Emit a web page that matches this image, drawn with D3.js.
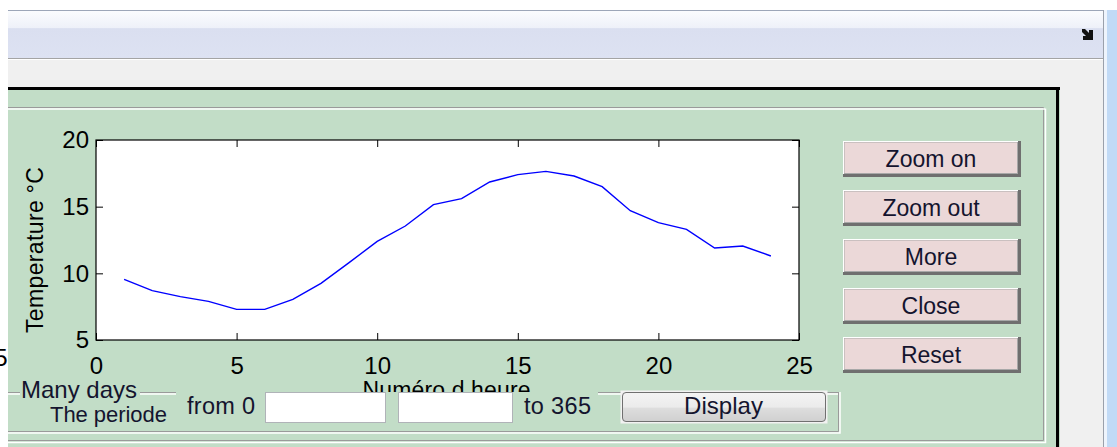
<!DOCTYPE html>
<html>
<head>
<meta charset="utf-8">
<script src="https://cdn.jsdelivr.net/npm/d3@7"></script>
<style>
  html, body { margin: 0; padding: 0; background: #ffffff; overflow: hidden; }
  svg { display: block; font-family: "Liberation Sans", Arial, sans-serif; }
</style>
</head>
<body>
<svg id="fig" width="1117" height="447"></svg>
<script>
// ---------- data ----------
const hours = [1, 2, 3, 4, 5, 6, 7, 8, 9, 10, 11, 12, 13, 14, 15, 16, 17, 18, 19, 20, 21, 22, 23, 24];
const temperatures = [9.55, 8.7, 8.25, 7.9, 7.3, 7.3, 8.05, 9.25, 10.8, 12.4, 13.55, 15.15, 15.6, 16.85, 17.4, 17.65, 17.3, 16.5, 14.7, 13.8, 13.3, 11.9, 12.05, 11.3];
const xTicks = [0, 5, 10, 15, 20, 25];
const yTicks = [5, 10, 15, 20];
const xDomain = [0, 25];
const yDomain = [5, 20];
const xLabel = "Numéro d heure";
const yLabel = "Temperature °C";
const buttonLabels = ["Zoom on", "Zoom out", "More", "Close", "Reset"];

const svg = d3.select("#fig");
const GREEN = "#c2ddc7";
const defs = svg.append("defs");

// ---------- window chrome ----------
const tg = defs.append("linearGradient").attr("id", "titleGrad").attr("x1", 0).attr("y1", 0).attr("x2", 0).attr("y2", 1);
tg.append("stop").attr("offset", "0").attr("stop-color", "#fbfcfe");
tg.append("stop").attr("offset", "0.36").attr("stop-color", "#eef1f9");
tg.append("stop").attr("offset", "0.38").attr("stop-color", "#dadff0");
tg.append("stop").attr("offset", "1").attr("stop-color", "#dde2f2");

svg.append("rect").attr("x", 0).attr("y", 0).attr("width", 1117).attr("height", 447).attr("fill", "#ffffff");
svg.append("rect").attr("x", 8).attr("y", 10).attr("width", 1096).attr("height", 437).attr("fill", "#f0f0f0");
svg.append("rect").attr("x", 8).attr("y", 10).attr("width", 1096).attr("height", 49).attr("fill", "url(#titleGrad)");
svg.append("line").attr("x1", 8).attr("x2", 1104).attr("y1", 10.5).attr("y2", 10.5).attr("stroke", "#9ca6b8");
svg.append("line").attr("x1", 8).attr("x2", 1104).attr("y1", 58.5).attr("y2", 58.5).attr("stroke", "#a4a4a4");
svg.append("line").attr("x1", 8).attr("x2", 1104).attr("y1", 59.5).attr("y2", 59.5).attr("stroke", "#ffffff");
// dock arrow icon
svg.append("path").attr("d", "M1082,29 L1085,29 L1089,33 L1089,30 L1093,30 L1093,40 L1083,40 L1083,36 L1086,36 L1082,32 Z")
  .attr("fill", "#111");
// right edge strip
svg.append("line").attr("x1", 1103.5).attr("x2", 1103.5).attr("y1", 10).attr("y2", 447).attr("stroke", "#9aa0ab");
svg.append("rect").attr("x", 1104).attr("y", 10).attr("width", 3).attr("height", 437).attr("fill", "#eef4fc");
svg.append("rect").attr("x", 1107).attr("y", 10).attr("width", 10).attr("height", 437).attr("fill", "#c1daf6");

// ---------- green panel ----------
svg.append("rect").attr("x", 8).attr("y", 87).attr("width", 1052).attr("height", 360).attr("fill", GREEN);
svg.append("rect").attr("x", 8).attr("y", 87).attr("width", 1052).attr("height", 3).attr("fill", "#000");
svg.append("rect").attr("x", 1056).attr("y", 87).attr("width", 3).attr("height", 360).attr("fill", "#000");
const etched = (x1, y1, x2, y2) => {
  svg.append("path").attr("d", `M${x1},${y1} L${x2},${y1} L${x2},${y2} L${x1},${y2}`).attr("fill", "none").attr("stroke", "#9a9a9a").attr("stroke-width", 1);
  svg.append("path").attr("d", `M${x1},${y1 + 1.5} L${x2 + 1.5},${y1 + 1.5} M${x2 + 2},${y1 + 1} L${x2 + 2},${y2 + 2} L${x1},${y2 + 2}`).attr("fill", "none").attr("stroke", "#ffffff").attr("stroke-width", 1.5);
};
etched(8, 107.5, 1043.5, 440.5);

// ---------- axes ----------
const m = { left: 96, right: 799, top: 140, bottom: 340 };
const x = d3.scaleLinear().domain(xDomain).range([m.left, m.right]);
const y = d3.scaleLinear().domain(yDomain).range([m.bottom, m.top]);
const TICK = 7;
const FONT_AX = 24;

svg.append("rect").attr("x", m.left).attr("y", m.top).attr("width", m.right - m.left).attr("height", m.bottom - m.top).attr("fill", "#fff");

const line = d3.line().x((d, i) => x(hours[i])).y(d => y(d));
svg.append("path").datum(temperatures).attr("d", line).attr("fill", "none").attr("stroke", "#0000ff").attr("stroke-width", 1.4);

const axStyle = g => {
  g.select(".domain").remove();
  g.selectAll("line").attr("stroke", "#000").attr("stroke-width", 1);
  g.selectAll("text").attr("font-size", FONT_AX).attr("fill", "#000").attr("font-family", "Liberation Sans, Arial, sans-serif");
};
const gB = svg.append("g").attr("transform", `translate(0,${m.bottom})`)
  .call(d3.axisBottom(x).tickValues(xTicks).tickFormat(d3.format("d")).tickSizeInner(-TICK).tickSizeOuter(0).tickPadding(TICK + 10));
gB.call(axStyle);
const gT = svg.append("g").attr("transform", `translate(0,${m.top})`)
  .call(d3.axisTop(x).tickValues(xTicks).tickFormat("").tickSizeInner(-TICK).tickSizeOuter(0));
gT.call(axStyle);
const gL = svg.append("g").attr("transform", `translate(${m.left},0)`)
  .call(d3.axisLeft(y).tickValues(yTicks).tickFormat(d3.format("d")).tickSizeInner(-TICK).tickSizeOuter(0).tickPadding(7));
gL.call(axStyle);
const gR = svg.append("g").attr("transform", `translate(${m.right},0)`)
  .call(d3.axisRight(y).tickValues(yTicks).tickFormat("").tickSizeInner(-TICK).tickSizeOuter(0));
gR.call(axStyle);
svg.append("rect").attr("x", m.left).attr("y", m.top).attr("width", m.right - m.left).attr("height", m.bottom - m.top)
  .attr("fill", "none").attr("stroke", "#000").attr("stroke-width", 1.2);

// stray partial tick label at the left edge
svg.append("text").attr("x", 1).attr("y", 366).attr("text-anchor", "middle").attr("font-size", FONT_AX).attr("fill", "#000").text("5");

// y label
svg.append("text").attr("transform", `translate(43,${(m.top + m.bottom) / 2 + 10}) rotate(-90)`)
  .attr("text-anchor", "middle").attr("font-size", 23).attr("fill", "#000").attr("textLength", 166).text(yLabel);

// x label (partially hidden behind the lower controls)
defs.append("clipPath").attr("id", "xlabClip").append("rect").attr("x", 0).attr("y", 0).attr("width", 1117).attr("height", 392);
svg.append("text").attr("x", (m.left + m.right) / 2 - 1).attr("y", 398).attr("text-anchor", "middle")
  .attr("font-size", 23).attr("fill", "#000").attr("textLength", 168).attr("clip-path", "url(#xlabClip)").text(xLabel);

svg.append("rect").attr("x", 0).attr("y", 0).attr("width", 8).attr("height", 447).attr("fill", "#ffffff").lower();

// ---------- right buttons ----------
const btnY = d3.scalePoint().domain(buttonLabels).range([141, 337]);
buttonLabels.forEach(lbl => {
  const bx = 843, by = btnY(lbl), bw = 178, bh = 36;
  const g = svg.append("g");
  g.append("rect").attr("x", bx).attr("y", by).attr("width", bw).attr("height", bh).attr("fill", "#6f6f6f");
  g.append("rect").attr("x", bx).attr("y", by).attr("width", bw - 3).attr("height", bh - 3).attr("fill", "#ffffff");
  g.append("rect").attr("x", bx + 1).attr("y", by + 1).attr("width", bw - 4).attr("height", bh - 4).attr("fill", "#a8a8a8");
  g.append("rect").attr("x", bx + 1.5).attr("y", by + 1.5).attr("width", bw - 5.5).attr("height", bh - 5.5).attr("fill", "#ebd8d8");
  g.append("text").attr("x", bx + bw / 2 - 1).attr("y", by + 26).attr("text-anchor", "middle")
    .attr("font-size", 23).attr("fill", "#14142e").text(lbl);
});

// ---------- bottom group box ----------
const fy = 392, fb = 431, fr = 838;
const segs = [[8, 20], [140, 176], [598, 622], [825, fr]];
segs.forEach(([a, b]) => {
  svg.append("line").attr("x1", a).attr("x2", b).attr("y1", fy + 0.5).attr("y2", fy + 0.5).attr("stroke", "#9a9a9a");
  svg.append("line").attr("x1", a).attr("x2", b).attr("y1", fy + 2).attr("y2", fy + 2).attr("stroke", "#ffffff").attr("stroke-width", 1.5);
});
svg.append("path").attr("d", `M${fr + 0.5},${fy} L${fr + 0.5},${fb + 0.5} L8,${fb + 0.5}`).attr("fill", "none").attr("stroke", "#9a9a9a");
svg.append("path").attr("d", `M${fr + 2},${fy} L${fr + 2},${fb + 2} L8,${fb + 2}`).attr("fill", "none").attr("stroke", "#ffffff").attr("stroke-width", 1.5);

svg.append("text").attr("x", 21).attr("y", 398).attr("font-size", 24).attr("fill", "#14142e").attr("textLength", 116).text("Many days");
svg.append("text").attr("x", 50).attr("y", 421.5).attr("font-size", 22).attr("fill", "#14142e").attr("textLength", 117).text("The periode");
svg.append("text").attr("x", 187).attr("y", 413.5).attr("font-size", 23.5).attr("fill", "#14142e").attr("textLength", 68).text("from 0");
svg.append("text").attr("x", 524).attr("y", 413.5).attr("font-size", 23.5).attr("fill", "#14142e").attr("textLength", 67).text("to 365");

[[265, 385], [398, 512]].forEach(([a, b]) => {
  svg.append("rect").attr("x", a + 0.5).attr("y", fy + 0.5).attr("width", b - a).attr("height", 30).attr("fill", "#ffffff")
    .attr("stroke", "#b0b3b8");
});

const dg = defs.append("linearGradient").attr("id", "dispGrad").attr("x1", 0).attr("y1", 0).attr("x2", 0).attr("y2", 1);
dg.append("stop").attr("offset", "0").attr("stop-color", "#f4f4f4");
dg.append("stop").attr("offset", "0.5").attr("stop-color", "#ebebeb");
dg.append("stop").attr("offset", "0.55").attr("stop-color", "#dddddd");
dg.append("stop").attr("offset", "1").attr("stop-color", "#d0d0d0");
svg.append("rect").attr("x", 620.5).attr("y", 390.5).attr("width", 207).attr("height", 33).attr("fill", "#f2f2f2").attr("stroke", "none");
svg.append("rect").attr("x", 622.5).attr("y", 392.5).attr("width", 203).attr("height", 29).attr("rx", 3.5)
  .attr("fill", "url(#dispGrad)").attr("stroke", "#707070");
svg.append("text").attr("x", 723.5).attr("y", 413.5).attr("text-anchor", "middle").attr("font-size", 24)
  .attr("fill", "#14142e").attr("textLength", 79).text("Display");
</script>
</body>
</html>
